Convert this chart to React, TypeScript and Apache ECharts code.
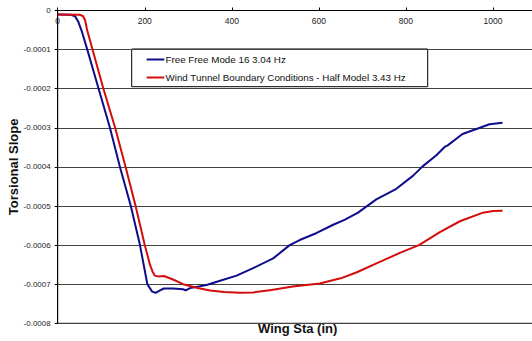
import React, { useEffect, useRef } from "react";
import * as echarts from "echarts";

// Wing station (in) and torsional slope for each mode shape
const freeFreeSta = [
  0, 30, 40, 47, 55, 68, 94, 120, 143, 168, 189, 206, 217, 225, 235, 244, 265,
  288, 294, 304, 342, 373, 411, 449, 495, 533, 556, 595, 633, 660, 690, 732,
  778, 816, 839, 870, 890, 896, 930, 970, 992, 1022,
];
const freeFreeSlope = [
  -0.00001, -0.000011, -0.000015, -0.000028, -0.000052, -0.0001, -0.0002,
  -0.0003, -0.0004, -0.0005, -0.0006, -0.0007, -0.000719, -0.000722,
  -0.000716, -0.000711, -0.000711, -0.000713, -0.000716, -0.00071, -0.000702,
  -0.000691, -0.000678, -0.000659, -0.000634, -0.0006, -0.000587, -0.000569,
  -0.000548, -0.000535, -0.000517, -0.000483, -0.000456, -0.000423,
  -0.000398, -0.00037, -0.000348, -0.000345, -0.000316, -0.0003, -0.000291,
  -0.000287,
];

const windTunnelSta = [
  0, 50, 58, 63, 68, 80, 105, 132, 156, 179, 200, 212, 218, 223, 230, 244,
  265, 288, 319, 350, 382, 419, 450, 491, 540, 602, 650, 686, 740, 786, 830,
  878, 924, 977, 1000, 1022,
];
const windTunnelSlope = [
  -0.00001, -0.000011, -0.000014, -0.000025, -0.000052, -0.0001, -0.0002,
  -0.0003, -0.0004, -0.0005, -0.0006, -0.00065, -0.000668, -0.000678,
  -0.00068, -0.000679, -0.000688, -0.0007, -0.000709, -0.000716, -0.00072,
  -0.000722, -0.000721, -0.000715, -0.000706, -0.000698, -0.000685,
  -0.00067, -0.000643, -0.00062, -0.0006, -0.000567, -0.000539, -0.000517,
  -0.000513, -0.000512,
];

const seriesNames = [
  "Free Free Mode 16 3.04 Hz",
  "Wind Tunnel Boundary Conditions - Half Model 3.43 Hz",
];
const seriesColors = ["#0c0c8c", "#d40c0c"];

const FONT = "'Liberation Sans', Arial, sans-serif";

function pairs(xs: number[], ys: number[]) {
  return xs.map((x, i) => [x, ys[i]]);
}

export default function App() {
  const ref = useRef<HTMLDivElement>(null);

  useEffect(() => {
    if (!ref.current) return;
    const chart = echarts.init(ref.current, undefined, { renderer: "svg" });

    const legendX = 131.7;
    const legendY = 49;
    const legendRows = [59.5, 77.5];

    chart.setOption({
      animation: false,
      backgroundColor: "#ffffff",
      grid: {
        left: 57.7,
        top: 10.5,
        width: 478.8,
        height: 312.8,
        containLabel: false,
        outerBoundsMode: "none",
        show: true,
        borderColor: "#000000",
        borderWidth: 1,
        backgroundColor: "transparent",
      },
      xAxis: {
        type: "value",
        position: "top",
        min: 0,
        max: 1100,
        interval: 200,
        axisLine: { show: true, onZero: false, lineStyle: { color: "#000", width: 1 } },
        axisTick: { show: true, inside: false, length: 3, lineStyle: { color: "#000" } },
        axisLabel: {
          inside: true,
          margin: 6,
          showMaxLabel: false,
          fontSize: 8.5,
          fontFamily: FONT,
          color: "#222",
          formatter: (v: number) => String(v),
        },
        splitLine: { show: false },
      },
      yAxis: {
        type: "value",
        min: -0.0008,
        max: 0,
        interval: 0.0001,
        name: "Torsional Slope",
        nameLocation: "middle",
        nameGap: 38,
        nameRotate: 90,
        nameMoveOverlap: false,
        nameTextStyle: {
          fontSize: 13,
          fontWeight: "bold",
          fontFamily: FONT,
          color: "#111",
        },
        axisLine: { show: true, onZero: false, lineStyle: { color: "#000", width: 1 } },
        axisTick: { show: true, inside: false, length: 3, lineStyle: { color: "#000" } },
        axisLabel: {
          margin: 7,
          fontSize: 8,
          fontFamily: FONT,
          color: "#222",
          formatter: (v: number) => (Math.abs(v) < 1e-12 ? "0" : v.toFixed(4)),
        },
        splitLine: { show: true, lineStyle: { color: "#444", width: 1 } },
      },
      series: [
        {
          name: seriesNames[0],
          type: "line",
          data: pairs(freeFreeSta, freeFreeSlope),
          showSymbol: false,
          smooth: false,
          lineStyle: { color: seriesColors[0], width: 2, join: "round" },
          itemStyle: { color: seriesColors[0] },
        },
        {
          name: seriesNames[1],
          type: "line",
          data: pairs(windTunnelSta, windTunnelSlope),
          showSymbol: false,
          smooth: false,
          lineStyle: { color: seriesColors[1], width: 2, join: "round" },
          itemStyle: { color: seriesColors[1] },
        },
      ],
      graphic: [
        {
          type: "text",
          left: 299 - 41,
          top: 322,
          z: 100,
          style: {
            text: "Wing Sta (in)",
            fontSize: 13,
            fontWeight: "bold",
            fontFamily: FONT,
            fill: "#111",
          },
        },
        {
          type: "group",
          z: 100,
          children: [
            {
              type: "rect",
              shape: { x: legendX, y: legendY, width: 296, height: 37.7 },
              style: { fill: "#ffffff", stroke: "#000000", lineWidth: 1 },
            },
            ...seriesNames.flatMap((name, i) => [
              {
                type: "line",
                shape: { x1: 146.7, y1: legendRows[i], x2: 164.3, y2: legendRows[i] },
                style: { stroke: seriesColors[i], lineWidth: 2 },
              },
              {
                type: "text",
                x: 165.5,
                y: legendRows[i],
                style: {
                  text: name,
                  fontSize: 9.8,
                  fontFamily: FONT,
                  fill: "#111",
                  verticalAlign: "middle",
                  align: "left",
                },
              },
            ]),
          ],
        },
      ],
    });

    return () => chart.dispose();
  }, []);

  return (
    <div
      ref={ref}
      style={{
        position: "absolute",
        left: 0,
        top: 0,
        width: 532,
        height: 341,
        overflow: "hidden",
        background: "#fff",
      }}
    />
  );
}
